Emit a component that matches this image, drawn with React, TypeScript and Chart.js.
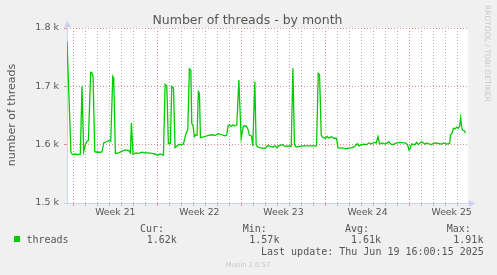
import { useEffect, useRef } from 'react';
import { Chart, registerables } from 'chart.js';

Chart.register(...registerables);

const TITLE = 'Number of threads - by month';
const Y_LABEL = 'number of threads';
const SERIES_LABEL = 'threads';
const WATERMARK = 'RRDTOOL / TOBI OETIKER';
const FOOTER = 'Munin 2.0.57';
const LAST_UPDATE = 'Last update: Thu Jun 19 16:00:15 2025';

// x: days since the left edge of the graph, y: number of threads
const dayOffsets = [
  0.0, 0.33, 0.47, 0.69, 0.92, 1.11, 1.25, 1.39, 1.53, 1.67, 1.78, 1.97, 2.08, 2.17, 2.31, 2.5, 2.78, 2.92,
  3.06, 3.28, 3.47, 3.64, 3.81, 3.89, 4.03, 4.31, 4.58, 4.86, 5.14, 5.28, 5.36, 5.5, 5.75, 5.97, 6.25, 6.53,
  6.78, 7.06, 7.33, 7.56, 7.75, 8.03, 8.17, 8.31, 8.44, 8.61, 8.72, 8.86, 9.0, 9.28, 9.69, 9.89, 10.06, 10.19,
  10.31, 10.39, 10.5, 10.61, 10.72, 10.83, 10.94, 11.03, 11.11, 11.5, 11.78, 12.06, 12.33, 12.61, 12.89, 13.17,
  13.29, 13.42, 13.53, 13.67, 13.81, 13.94, 14.14, 14.31, 14.5, 14.69, 14.92, 15.06, 15.19, 15.36, 15.47, 15.64,
  15.75, 15.89, 16.17, 16.53, 16.72, 16.92, 17.14, 17.33, 17.47, 17.69, 17.97, 18.14, 18.39, 18.67, 18.81, 18.94,
  19.08, 19.36, 19.69, 20.06, 20.56, 20.78, 20.92, 21.03, 21.17, 21.33, 21.53, 21.67, 21.83, 22.0, 22.22, 22.44,
  22.56, 22.78, 23.06, 23.19, 23.47, 23.75, 24.03, 24.17, 24.31, 24.5, 24.72, 24.94, 25.14, 25.33, 25.56, 25.75,
  25.89, 26.03, 26.25, 26.53, 26.81, 26.97, 27.17, 27.44, 27.72, 28.14, 28.36, 28.47, 28.58, 28.69, 28.97, 29.11,
  29.25, 29.53, 29.81, 29.94, 30.31, 30.64, 30.92, 31.19, 31.33, 31.61, 31.86, 31.94, 32.08, 32.17, 32.31, 32.44,
  32.58, 32.69, 32.78, 32.86, 32.94, 33.08, 33.19,
];
const threadCounts = [
  1777, 1586, 1583, 1584, 1583, 1584, 1700, 1588, 1600, 1606, 1607, 1724, 1723, 1717, 1588, 1587, 1587, 1588,
  1603, 1605, 1607, 1606, 1717, 1714, 1585, 1586, 1589, 1591, 1590, 1586, 1637, 1584, 1586, 1585, 1587, 1586,
  1586, 1585, 1584, 1582, 1584, 1582, 1703, 1701, 1602, 1602, 1700, 1698, 1595, 1600, 1601, 1618, 1626, 1730,
  1728, 1636, 1632, 1614, 1617, 1616, 1691, 1688, 1612, 1614, 1616, 1617, 1616, 1619, 1617, 1615,
  1616, 1633, 1634, 1631, 1634, 1632, 1634, 1711, 1611, 1632, 1632, 1627, 1616, 1615, 1598, 1708,
  1600, 1596, 1594, 1594, 1599, 1597, 1596, 1598, 1595, 1599, 1600, 1597, 1598, 1597, 1731, 1600,
  1596, 1597, 1598, 1598, 1598, 1598, 1722, 1720, 1616, 1612, 1611, 1614, 1611, 1614, 1611, 1611,
  1595, 1594, 1594, 1593, 1594, 1595, 1598, 1602, 1598, 1600, 1601, 1600, 1603, 1601, 1604, 1603,
  1614, 1601, 1603, 1601, 1605, 1601, 1600, 1603, 1604, 1603, 1600, 1591, 1594, 1601, 1600, 1604,
  1600, 1605, 1601, 1603, 1600, 1603, 1602, 1601, 1603, 1601, 1602, 1617, 1620, 1628, 1627, 1630,
  1628, 1632, 1646, 1630, 1625, 1624, 1620,
];

const weekLabels = ['Week 21', 'Week 22', 'Week 23', 'Week 24', 'Week 25'];
const FIRST_WEEK_START = 0.528; // day offset of the first Monday grid line
const X_MAX_DAYS = 33.39;
const Y_MIN = 1500;
const Y_MAX = 1800;
const Y_STEP = 100;

const legendHeaders = ['Cur:', 'Min:', 'Avg:', 'Max:'];
const legendValues = ['1.62k', '1.57k', '1.61k', '1.91k'];

const BG = '#f0f0f0';
const LINE = '#00cc00';
const MAJOR = '#e58c8c';
const MINOR = '#b0b0b0';
const AXIS = '#c9d1f5';
const TEXT = '#555555';
const SANS = '"DejaVu Sans", sans-serif';
const MONO = '"DejaVu Sans Mono", monospace';

const backgroundPlugin = {
  id: 'muninBackground',
  beforeDraw(chart: any) {
    const { ctx, chartArea } = chart;
    ctx.save();
    ctx.fillStyle = BG;
    ctx.fillRect(0, 0, chart.width, chart.height);
    ctx.fillStyle = '#ffffff';
    ctx.fillRect(chartArea.left, chartArea.top, chartArea.right - chartArea.left, chartArea.bottom - chartArea.top);
    ctx.restore();
  },
};

const decorPlugin = {
  id: 'muninDecor',
  beforeDatasetsDraw(chart: any) {
    const { ctx, chartArea } = chart;
    const l = Math.round(chartArea.left);
    const b = Math.round(chartArea.bottom);
    const r = Math.round(chartArea.right);
    const t = Math.round(chartArea.top);
    ctx.save();
    ctx.fillStyle = AXIS;
    // y axis + arrow
    ctx.fillRect(l, t - 4, 1, b - t + 5);
    ctx.beginPath();
    ctx.moveTo(l - 3, t - 1);
    ctx.lineTo(l + 4, t - 1);
    ctx.lineTo(l + 0.5, t - 7);
    ctx.closePath();
    ctx.fill();
    // x axis + arrow
    ctx.fillRect(l - 3, b, r - l + 4, 1);
    ctx.beginPath();
    ctx.moveTo(r + 1, b - 3);
    ctx.lineTo(r + 1, b + 4);
    ctx.lineTo(r + 7, b + 0.5);
    ctx.closePath();
    ctx.fill();
    ctx.restore();
  },
  afterDraw(chart: any) {
    const { ctx } = chart;
    ctx.save();
    // title
    ctx.fillStyle = TEXT;
    ctx.font = `12.5px ${SANS}`;
    ctx.textAlign = 'center';
    ctx.textBaseline = 'alphabetic';
    ctx.fillText(TITLE, 247.5, 23.5);
    // y axis label
    ctx.save();
    ctx.translate(15, 115);
    ctx.rotate(-Math.PI / 2);
    ctx.font = `11px ${SANS}`;
    ctx.textAlign = 'center';
    ctx.fillText(Y_LABEL, 0, 0);
    ctx.restore();
    // watermark
    ctx.save();
    ctx.translate(485, 5);
    ctx.rotate(Math.PI / 2);
    ctx.fillStyle = '#c8c8c8';
    ctx.font = `7.5px ${SANS}`;
    ctx.textAlign = 'left';
    ctx.fillText(WATERMARK, 0, 0);
    ctx.restore();
    // legend
    ctx.fillStyle = LINE;
    ctx.fillRect(14, 236, 6, 6);
    ctx.fillStyle = TEXT;
    ctx.font = `10px ${MONO}`;
    ctx.textAlign = 'left';
    ctx.fillText(SERIES_LABEL, 26.5, 243);
    const headX = [140, 242.7, 345, 446.7];
    const valX = [146.7, 249.3, 351, 453.3];
    legendHeaders.forEach((h, i) => ctx.fillText(h, headX[i], 231.5));
    legendValues.forEach((v, i) => ctx.fillText(v, valX[i], 243));
    ctx.fillText(LAST_UPDATE, 261, 254.5);
    // footer
    ctx.fillStyle = '#c8c8c8';
    ctx.font = `6.8px ${SANS}`;
    ctx.textAlign = 'center';
    ctx.fillText(FOOTER, 248, 267);
    ctx.restore();
  },
};

export default function App() {
  const ref = useRef<HTMLCanvasElement>(null);
  useEffect(() => {
    document.body.style.margin = '0';
    const points = dayOffsets.map((d, i) => ({ x: d, y: threadCounts[i] }));
    const chart = new Chart(ref.current as HTMLCanvasElement, {
      type: 'line',
      data: {
        datasets: [
          {
            label: SERIES_LABEL,
            data: points,
            borderColor: LINE,
            borderWidth: 1.3,
            pointRadius: 0,
            tension: 0,
            fill: false,
          },
        ],
      },
      options: {
        animation: false,
        responsive: false,
        maintainAspectRatio: false,
        layout: { padding: { top: 28, right: 29, left: 0, bottom: 0 } },
        plugins: { legend: { display: false }, tooltip: { enabled: false }, title: { display: false } },
        scales: {
          x: {
            type: 'linear',
            min: 0,
            max: X_MAX_DAYS,
            afterBuildTicks: (s: any) => {
              const ticks: any[] = [];
              for (let k = 0; FIRST_WEEK_START + k <= X_MAX_DAYS; k++) {
                ticks.push({ value: FIRST_WEEK_START + k, major: k % 7 === 0 });
              }
              s.ticks = ticks;
            },
            afterFit: (s: any) => {
              s.height = 72;
            },
            grid: {
              color: (c: any) => (c.tick && c.tick.major ? MAJOR : MINOR),
              tickColor: (c: any) => (c.tick && c.tick.major ? MAJOR : MINOR),
              tickLength: 3,
              lineWidth: 1,
            },
            border: { display: false, dash: [1, 2] },
            ticks: {
              autoSkip: false,
              maxRotation: 0,
              minRotation: 0,
              labelOffset: 42,
              padding: 1,
              color: TEXT,
              font: { family: SANS, size: 9.3 },
              callback: (_v: any, i: number) => (i % 7 === 0 ? weekLabels[i / 7] || '' : ''),
            },
          },
          y: {
            type: 'linear',
            min: Y_MIN,
            max: Y_MAX,
            afterFit: (s: any) => {
              s.width = 67;
            },
            grid: { color: MAJOR, tickColor: MAJOR, tickLength: 3, lineWidth: 1 },
            border: { display: false, dash: [1, 2] },
            ticks: {
              stepSize: Y_STEP,
              padding: 5,
              color: TEXT,
              font: { family: SANS, size: 9.5 },
              callback: (v: any) => (Number(v) / 1000).toFixed(1) + ' k',
            },
          },
        },
      },
      plugins: [backgroundPlugin, decorPlugin],
    } as any);
    return () => chart.destroy();
  }, []);
  return (
    <div style={{ position: 'fixed', left: 0, top: 0, width: 497, height: 275, background: BG }}>
      <canvas ref={ref} width={497} height={275} style={{ display: 'block', width: 497, height: 275 }} />
    </div>
  );
}
